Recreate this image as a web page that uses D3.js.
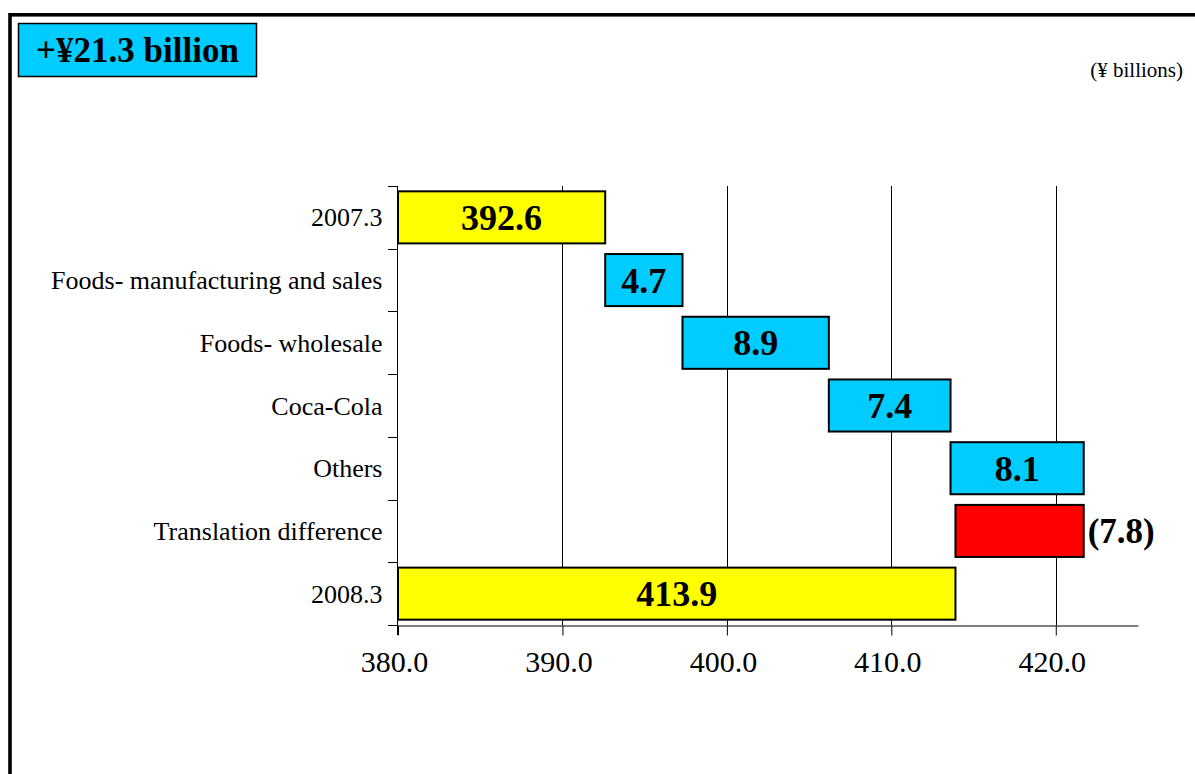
<!DOCTYPE html>
<html lang="en">
  <head>
    <meta charset="UTF-8" />
    <title>Waterfall</title>
    <script src="https://cdn.jsdelivr.net/npm/d3@7"></script>
    <style>
      body {
        margin: 0;
        background-color: #FFFFFF;
        font-family: "Liberation Serif", "Times New Roman", serif;
      }
    </style>
  </head>
  <body>
    <div id="my_dataviz"></div>
    <script>
      // chart data
      var categories = [
        "2007.3",
        "Foods- manufacturing and sales",
        "Foods- wholesale",
        "Coca-Cola",
        "Others",
        "Translation difference",
        "2008.3"
      ];
      var values = [392.6, 4.7, 8.9, 7.4, 8.1, -7.8, 413.9];
      var kinds = ["total", "up", "up", "up", "up", "down", "total"];
      var valueLabels = ["392.6", "4.7", "8.9", "7.4", "8.1", "(7.8)", "413.9"];
      var xTicks = [380, 390, 400, 410, 420];
      var xTickLabels = ["380.0", "390.0", "400.0", "410.0", "420.0"];

      var W = 1195, H = 774;
      var plotL = 398, plotR = 1138, plotT = 186, plotB = 625;

      var svg = d3.select("#my_dataviz")
        .append("svg")
        .attr("width", W)
        .attr("height", H);

      // outer frame (only top and left edges are visible)
      svg.append("rect")
        .attr("x", 10)
        .attr("y", 14.8)
        .attr("width", W + 20)
        .attr("height", H + 20)
        .attr("fill", "none")
        .attr("stroke", "#000")
        .attr("stroke-width", 3.6);

      // title box
      svg.append("rect")
        .attr("x", 18.5)
        .attr("y", 23.5)
        .attr("width", 238)
        .attr("height", 53)
        .attr("fill", "#00CCFF")
        .attr("stroke", "#000")
        .attr("stroke-width", 1.5);
      svg.append("text")
        .attr("x", 137.5)
        .attr("y", 62)
        .attr("text-anchor", "middle")
        .attr("font-weight", 700)
        .style("font-size", "35px")
        .text("+¥21.3 billion");

      svg.append("text")
        .attr("x", 1183)
        .attr("y", 77)
        .attr("text-anchor", "end")
        .style("font-size", "21px")
        .text("(¥ billions)");

      // running totals for the waterfall
      var bars = [];
      var run = 0;
      categories.forEach(function (c, i) {
        var s, e;
        if (kinds[i] == "total") {
          s = xTicks[0];
          e = values[i];
          run = values[i];
        } else {
          s = run;
          e = run + values[i];
          run = e;
        }
        bars.push({ cat: c, start: Math.min(s, e), end: Math.max(s, e), kind: kinds[i], label: valueLabels[i] });
      });

      var x = d3.scaleLinear().domain([380, 425]).range([plotL, plotR]);
      var y = d3.scaleBand().domain(categories).range([plotT, plotB]).paddingInner(0.17).paddingOuter(0.085);
      var yb = d3.scaleBand().domain(categories).range([plotT, plotB]);

      // vertical gridlines
      svg.append("g")
        .selectAll("line")
        .data(xTicks.slice(1))
        .enter()
        .append("line")
        .attr("x1", function (d) { return Math.round(x(d)) + 0.5; })
        .attr("x2", function (d) { return Math.round(x(d)) + 0.5; })
        .attr("y1", plotT)
        .attr("y2", plotB)
        .attr("stroke", "#000")
        .attr("stroke-width", 1);

      // X axis
      var xAxis = svg.append("g")
        .attr("transform", "translate(0," + (plotB + 0.5) + ")")
        .call(d3.axisBottom(x).tickValues(xTicks).tickSize(10).tickSizeOuter(0)
          .tickFormat(function (d, i) { return xTickLabels[i]; }));
      xAxis.select(".domain").attr("stroke-width", 1);
      xAxis.selectAll(".tick line").attr("stroke-width", 1);
      xAxis.selectAll("text")
        .attr("y", 46)
        .attr("dy", null)
        .attr("dx", -4)
        .attr("font-family", "Liberation Serif")
        .style("font-size", "30px")
        .attr("fill", "#000");

      // Y axis
      var yAxis = svg.append("g")
        .attr("transform", "translate(" + (plotL - 0.5) + ",0)")
        .call(d3.axisLeft(yb).tickSize(0).tickPadding(15));
      yAxis.select(".domain").remove();
      yAxis.selectAll("text")
        .attr("font-family", "Liberation Serif")
        .style("font-size", "26px")
        .attr("dy", "0.35em")
        .attr("fill", "#000");
      var bounds = categories.map(function (c) { return yb(c); }).concat([plotB]);
      svg.append("g")
        .selectAll("line")
        .data(bounds)
        .enter()
        .append("line")
        .attr("x1", plotL - 10)
        .attr("x2", plotL)
        .attr("y1", function (d) { return Math.round(d) + 0.5; })
        .attr("y2", function (d) { return Math.round(d) + 0.5; })
        .attr("stroke", "#000");
      svg.append("line")
        .attr("x1", plotL - 0.5)
        .attr("x2", plotL - 0.5)
        .attr("y1", plotT)
        .attr("y2", plotB + 10)
        .attr("stroke", "#000");

      var color = { total: "#FFFF00", up: "#00CCFF", down: "#FF0000" };

      // Bars
      svg.selectAll("mybar")
        .data(bars)
        .enter()
        .append("rect")
        .attr("x", function (d) { return x(d.start); })
        .attr("y", function (d) { return y(d.cat); })
        .attr("width", function (d) { return x(d.end) - x(d.start); })
        .attr("height", y.bandwidth())
        .attr("fill", function (d) { return color[d.kind]; })
        .attr("stroke", "#000")
        .attr("stroke-width", 2);

      // bar labels
      svg.selectAll("mylabel")
        .data(bars)
        .enter()
        .append("text")
        .attr("x", function (d) {
          return d.kind == "down" ? x(d.end) + 4 : (x(d.start) + x(d.end)) / 2;
        })
        .attr("y", function (d) { return y(d.cat) + y.bandwidth() / 2; })
        .attr("dy", "0.35em")
        .attr("text-anchor", function (d) { return d.kind == "down" ? "start" : "middle"; })
        .attr("font-weight", 700)
        .style("font-size", function (d) { return d.kind == "down" ? "35px" : "36px"; })
        .text(function (d) { return d.label; });
    </script>
  </body>
</html>
